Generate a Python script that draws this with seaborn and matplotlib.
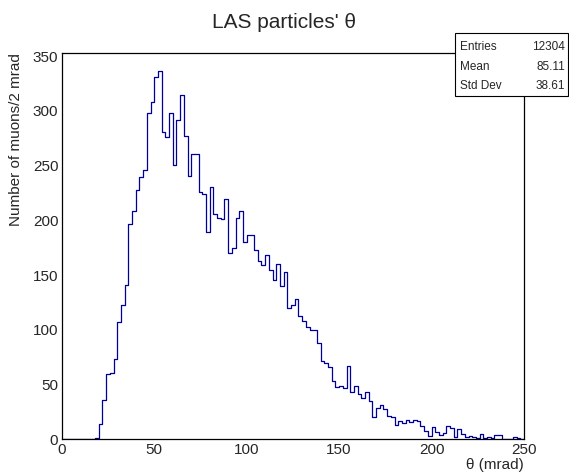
import numpy as np
import pandas as pd
import matplotlib
matplotlib.use("Agg")
import matplotlib.pyplot as plt
from matplotlib.patches import Rectangle
from matplotlib.ticker import MultipleLocator
import seaborn as sns

# Histogram: 125 bins of 2 mrad from 0 to 250
bin_lo = 0.0
bin_hi = 250.0
bin_width = 2.0
counts = [
    0, 0, 0, 0, 0, 0, 0, 0, 0, 1,
    14, 36, 60, 61, 73, 107, 123, 141, 197, 209,
    228, 240, 246, 298, 308, 331, 337, 281, 276, 298,
    251, 292, 315, 277, 241, 261, 261, 226, 224, 189,
    231, 206, 202, 201, 220, 170, 175, 202, 209, 180,
    187, 187, 173, 163, 159, 168, 155, 146, 160, 140,
    153, 120, 123, 128, 113, 108, 103, 100, 100, 88,
    72, 70, 66, 53, 48, 49, 47, 67, 43, 49,
    41, 38, 43, 35, 20, 29, 31, 28, 21, 20,
    13, 17, 15, 18, 16, 18, 17, 12, 8, 3,
    11, 7, 4, 6, 12, 10, 2, 9, 5, 2,
    3, 2, 1, 5, 1, 2, 1, 4, 4, 0,
    0, 0, 2, 1, 0,
]
title = "LAS particles' \u03b8"
xlabel = "\u03b8 (mrad)"
ylabel = "Number of muons/2 mrad"
stats_names = ["Entries", "Mean", "Std Dev"]
stats_values = ["12304", "85.11", "38.61"]

edges = np.arange(bin_lo, bin_hi + bin_width / 2, bin_width)
centers = (edges[:-1] + edges[1:]) / 2
df = pd.DataFrame({"theta": centers, "n": counts})

sns.set_style("white")
plt.rcParams["font.family"] = ["Liberation Sans", "DejaVu Sans"]

fig = plt.figure(figsize=(5.69, 4.74), dpi=100)
ax = fig.add_axes([61.8 / 569, 1 - 439.3 / 474, (524 - 61.8) / 569, (439.3 - 53) / 474])

sns.histplot(data=df, x="theta", weights="n", binwidth=bin_width,
             binrange=(bin_lo, bin_hi), element="step",
             fill=False, color="#000099", linewidth=0.9, ax=ax)

ax.set_xlim(0, 250)
ax.set_ylim(0, 353)
ax.xaxis.set_major_locator(MultipleLocator(50))
ax.xaxis.set_minor_locator(MultipleLocator(10))
ax.yaxis.set_major_locator(MultipleLocator(50))
ax.yaxis.set_minor_locator(MultipleLocator(10))
ax.tick_params(axis="x", which="major", direction="in", length=8, width=0.8,
               labelsize=11, pad=2.5, top=False)
ax.tick_params(axis="x", which="minor", direction="in", length=4, width=0.8, top=False)
ax.tick_params(axis="y", which="major", direction="in", length=5.5, width=0.8,
               labelsize=11, pad=2.5, right=False)
ax.tick_params(axis="y", which="minor", direction="in", length=2.8, width=0.8, right=False)
for s in ax.spines.values():
    s.set_color("black")
    s.set_linewidth(0.9)

ax.set_xlabel(xlabel, loc="right", fontsize=11, labelpad=1)
ax.set_ylabel(ylabel, loc="top", fontsize=11, labelpad=7)

fig.text(0.5, 1 - 22 / 474, title, ha="center", va="center", fontsize=15)

# Stats box
bx0, by0, bx1, by1 = 455 / 569, 1 - 96 / 474, 568 / 569, 1 - 33 / 474
fig.patches.append(Rectangle((bx0, by0), bx1 - bx0, by1 - by0, transform=fig.transFigure,
                             facecolor="white", edgecolor="black", linewidth=0.8, zorder=5))
row_y = [47, 67, 86]
for name, val, yy in zip(stats_names, stats_values, row_y):
    fig.text(460 / 569, 1 - yy / 474, name, ha="left", va="center", fontsize=8.5, zorder=6)
    fig.text(565 / 569, 1 - yy / 474, val, ha="right", va="center", fontsize=8.5, zorder=6)

fig.savefig("out.png", dpi=100)
